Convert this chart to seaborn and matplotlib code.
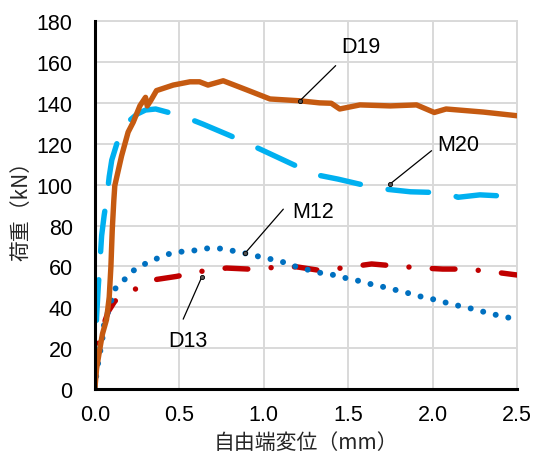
import matplotlib
matplotlib.use("Agg")
import matplotlib.pyplot as plt
import seaborn as sns
import pandas as pd

# Load-slip curves (free-end displacement in mm, load in kN)
d19_x = [0, 0.01, 0.03, 0.045, 0.069, 0.085, 0.095, 0.103, 0.112, 0.118, 0.158, 0.197, 0.227,
         0.267, 0.30, 0.31, 0.33, 0.365, 0.464, 0.563, 0.62, 0.67, 0.76, 0.898, 1.037, 1.214,
         1.33, 1.40, 1.45, 1.57, 1.75, 1.905, 2.01, 2.08, 2.30, 2.5]
d19_y = [0, 10, 20, 27, 34, 45, 60, 78, 92, 99.5, 114, 125.7, 130.5,
         138.6, 142.7, 138.5, 141, 146, 148.7, 150.3, 150.3, 148.7, 150.8, 146.4, 141.9, 141,
         140, 139.8, 137, 139, 138.5, 139, 135.3, 137, 135.5, 133.7]

m20_x = [0, 0.005, 0.01, 0.02, 0.03, 0.04, 0.055, 0.07, 0.085, 0.1, 0.13, 0.16, 0.2, 0.25,
         0.3, 0.36, 0.45, 0.52, 0.64, 0.8, 0.91, 1.04, 1.17, 1.3, 1.44, 1.58, 1.72, 1.87,
         2.0, 2.1, 2.15, 2.28, 2.4, 2.5]
m20_y = [0, 20, 35, 50, 62, 75, 85, 93, 104, 112, 120, 126, 131, 134.5,
         136.5, 137, 135, 133.5, 129.6, 124, 120, 115, 110, 105, 102.7, 100, 97.8, 96.5,
         96.2, 95.5, 93.8, 95, 94.5, 93.8]

m12_x = [0, 0.01, 0.02, 0.035, 0.045, 0.053, 0.118, 0.172, 0.227, 0.296, 0.36, 0.434, 0.513,
         0.582, 0.658, 0.736, 0.813, 0.89, 0.967, 1.04, 1.12, 1.194, 1.27, 1.343, 1.416,
         1.495, 1.57, 1.649, 1.724, 1.80, 1.876, 1.95, 2.03, 2.107, 2.18, 2.26, 2.336, 2.415, 2.5]
m12_y = [0, 8, 13, 20, 25, 31, 48.9, 53.3, 57.9, 61.2, 63.6, 66, 67.2,
         67.7, 68.8, 68.8, 67.7, 66.4, 64.9, 63.6, 62, 59.8, 58.2, 56.7, 55.8,
         54.1, 52.8, 51, 49.7, 48.1, 46.5, 44.8, 43.5, 41.6, 40.3, 38.8, 37, 35.6, 34]

d13_x = [0, 0.005, 0.015, 0.02, 0.05, 0.08, 0.118, 0.227, 0.355, 0.483, 0.632, 0.78, 0.908,
         1.066, 1.194, 1.343, 1.487, 1.639, 1.767, 1.92, 2.06, 2.2, 2.35, 2.5]
d13_y = [0, 10, 18, 22, 31, 38, 43, 48.4, 53.5, 55.1, 57.6, 59.2, 58.7,
         59.5, 59.8, 57.9, 59.5, 61.2, 60.3, 59.3, 58.7, 58.7, 57.4, 55.8]

x_ticks = [0.0, 0.5, 1.0, 1.5, 2.0, 2.5]
y_ticks = list(range(0, 181, 20))

sns.set_theme(style="white")
plt.rcParams["font.family"] = ["Liberation Sans", "Noto Sans CJK JP", "DejaVu Sans"]

fig, ax = plt.subplots(figsize=(5.33, 4.60), dpi=100)
fig.subplots_adjust(left=0.178, right=0.970, top=0.952, bottom=0.152)

series = [
    ("D13", d13_x, d13_y, "#C00000", 3.9, (0, (4.2, 4.3, 0.01, 4.3))),
    ("M12", m12_x, m12_y, "#0070C0", 4.3, (0, (0.01, 2.15))),
    ("M20", m20_x, m20_y, "#00B0F0", 3.9, (0, (7.5, 5.2))),
    ("D19", d19_x, d19_y, "#C55A11", 3.9, "-"),
]
for name, xs, ys, color, lw, ls in series:
    df = pd.DataFrame({"disp": xs, "load": ys})
    sns.lineplot(data=df, x="disp", y="load", ax=ax, sort=False, color=color,
                 linewidth=lw, linestyle=ls, dash_capstyle="round",
                 solid_capstyle="round", solid_joinstyle="round", zorder=3)

ax.set_xlim(0, 2.5)
ax.set_ylim(0, 180)
ax.set_xticks(x_ticks)
ax.set_xticklabels([f"{v:.1f}" for v in x_ticks])
ax.set_yticks(y_ticks)
ax.grid(True, color="#d9d9d9", linewidth=1.4, zorder=0)
ax.set_axisbelow(True)
ax.tick_params(axis="both", length=0, labelsize=15.5, colors="black")
ax.tick_params(axis="y", pad=16)
ax.tick_params(axis="x", pad=11)

for side in ("top", "right"):
    ax.spines[side].set_color("#d9d9d9")
    ax.spines[side].set_linewidth(1.4)
for side in ("left", "bottom"):
    ax.spines[side].set_color("black")
    ax.spines[side].set_linewidth(2.2)
    ax.spines[side].set_zorder(4)

ax.set_xlabel("自由端変位（mm）", fontsize=15, family=["Noto Sans CJK JP"], labelpad=4)
ax.set_ylabel("荷重（kN）", fontsize=15, family=["Noto Sans CJK JP"])
ax.yaxis.set_label_coords(-0.147, 0.5)

# Callout labels with leader lines
callouts = [
    ("D19", (1.576, 167.8), (1.426, 158.2), (1.214, 141.0)),
    ("M20", (2.153, 119.4), (1.994, 116.6), (1.748, 100.3)),
    ("M12", (1.290, 86.8), (1.116, 88.0), (0.889, 66.4)),
    ("D13", (0.553, 24.0), (0.523, 34.2), (0.632, 54.6)),
]
for text, tpos, start, end in callouts:
    ax.annotate("", xy=end, xytext=start,
                arrowprops=dict(arrowstyle="-", color="black", lw=0.9,
                                shrinkA=0, shrinkB=0), zorder=5)
    ax.plot([end[0]], [end[1]], marker="o", markersize=3, color="#555555",
            markeredgecolor="black", markeredgewidth=0.6, zorder=6)
    ax.text(tpos[0], tpos[1], text, fontsize=15.5, ha="center", va="center",
            color="black", zorder=6)

fig.savefig("out.png", dpi=100)
